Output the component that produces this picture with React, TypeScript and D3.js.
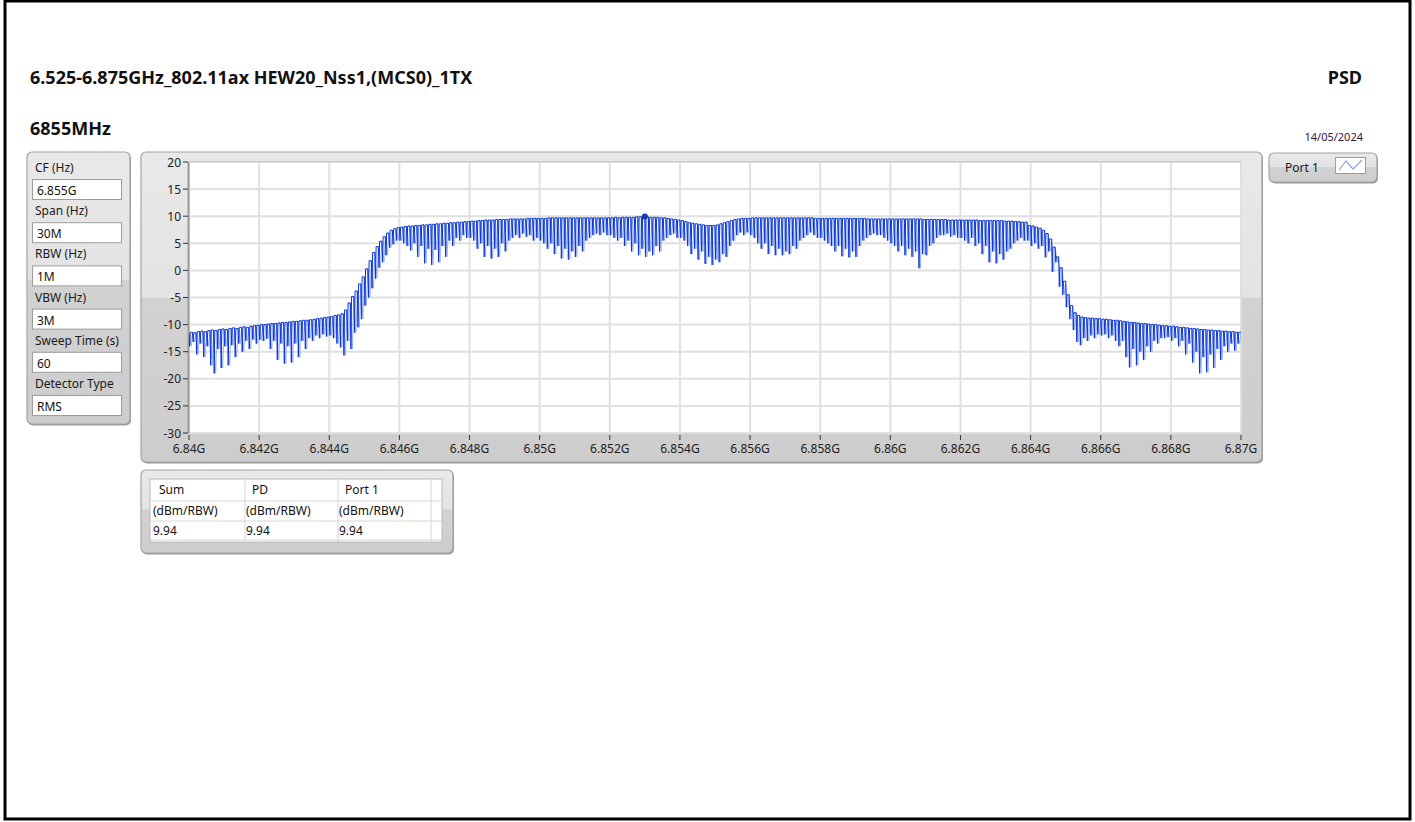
import * as d3 from 'd3';

// Sweep: 6.84 GHz .. 6.87 GHz, one peak every 0.1 MHz, dip half-way between peaks
const START_GHZ = 6.84;
const STEP_GHZ = 0.0001;

// Peak levels (dBm/RBW), one row per 2 MHz grid cell
const PEAK_DBM: number[][] = [
  [-11.6, -11.4, -11.5, -11.3, -11.2, -11.3, -11.1, -11.0, -11.1, -10.9, -10.8, -10.9, -10.7, -10.6, -10.7, -10.5, -10.4, -10.5, -10.3, -10.2],
  [-10.1, -10.0, -10.0, -9.9, -9.8, -9.8, -9.7, -9.6, -9.6, -9.5, -9.4, -9.4, -9.3, -9.2, -9.2, -9.1, -9.0, -8.9, -8.8, -8.7],
  [-8.6, -8.5, -8.3, -8.2, -8.0, -7.3, -6.0, -4.8, -3.8, -2.5, -1.2, 0.3, 1.8, 3.3, 4.4, 5.4, 6.2, 6.9, 7.4, 7.7],
  [7.9, 8.0, 8.1, 8.2, 8.2, 8.3, 8.3, 8.4, 8.4, 8.5, 8.5, 8.6, 8.6, 8.7, 8.7, 8.8, 8.8, 8.9, 8.9, 9.0],
  [9.0, 9.1, 9.1, 9.2, 9.2, 9.3, 9.3, 9.3, 9.4, 9.4, 9.4, 9.4, 9.5, 9.5, 9.5, 9.5, 9.5, 9.6, 9.6, 9.6],
  [9.6, 9.6, 9.6, 9.7, 9.7, 9.7, 9.7, 9.7, 9.7, 9.7, 9.7, 9.7, 9.7, 9.7, 9.7, 9.7, 9.7, 9.7, 9.7, 9.7],
  [9.7, 9.7, 9.8, 9.7, 9.8, 9.8, 9.8, 9.8, 9.9, 9.9, 9.94, 9.9, 9.8, 9.8, 9.8, 9.7, 9.7, 9.6, 9.5, 9.4],
  [9.3, 9.2, 9.0, 8.8, 8.7, 8.6, 8.5, 8.4, 8.3, 8.3, 8.3, 8.4, 8.6, 8.8, 9.0, 9.2, 9.4, 9.5, 9.6, 9.6],
  [9.6, 9.7, 9.7, 9.7, 9.7, 9.7, 9.7, 9.7, 9.7, 9.7, 9.7, 9.7, 9.7, 9.7, 9.7, 9.7, 9.7, 9.7, 9.7, 9.6],
  [9.6, 9.6, 9.6, 9.6, 9.6, 9.6, 9.6, 9.6, 9.6, 9.6, 9.6, 9.6, 9.6, 9.6, 9.5, 9.5, 9.5, 9.5, 9.5, 9.5],
  [9.5, 9.5, 9.5, 9.5, 9.5, 9.5, 9.5, 9.5, 9.5, 9.5, 9.4, 9.4, 9.4, 9.4, 9.4, 9.4, 9.4, 9.3, 9.3, 9.3],
  [9.3, 9.3, 9.3, 9.3, 9.3, 9.3, 9.2, 9.2, 9.2, 9.2, 9.2, 9.2, 9.2, 9.1, 9.1, 9.1, 9.0, 9.0, 8.9, 8.9],
  [8.3, 8.2, 8.0, 7.8, 7.4, 6.8, 5.8, 4.3, 2.5, 0.5, -2.0, -4.5, -6.5, -7.8, -8.3, -8.6, -8.7, -8.8, -8.8, -8.9],
  [-8.9, -9.0, -9.0, -9.1, -9.2, -9.2, -9.3, -9.4, -9.5, -9.6, -9.6, -9.7, -9.8, -9.8, -9.9, -10.0, -10.0, -10.1, -10.2, -10.2],
  [-10.3, -10.3, -10.4, -10.5, -10.5, -10.6, -10.7, -10.7, -10.8, -10.9, -10.9, -11.0, -11.0, -11.1, -11.1, -11.2, -11.2, -11.3, -11.3, -11.4, -11.4],
];

// Dip levels between consecutive peaks
const DIP_DBM: number[][] = [
  [-14.0, -13.2, -15.5, -13.5, -16.0, -14.0, -17.5, -19.0, -14.5, -18.0, -14.0, -17.5, -13.8, -16.0, -13.5, -15.0, -13.0, -14.5, -12.8, -13.5],
  [-12.8, -13.0, -12.6, -14.5, -13.0, -16.5, -13.5, -17.2, -14.0, -17.0, -13.5, -16.0, -13.0, -14.5, -12.5, -13.0, -12.0, -12.5, -11.8, -12.2],
  [-12.0, -12.5, -13.5, -14.2, -15.7, -13.0, -14.5, -11.5, -10.5, -9.0, -6.5, -5.0, -3.3, -1.5, 0.5, 1.5, 2.8, 4.2, 4.8, 5.5],
  [5.5, 5.0, 4.5, 3.7, 5.0, 2.5, 4.5, 1.3, 4.0, 1.0, 3.8, 1.5, 4.5, 2.5, 5.5, 4.5, 6.0, 5.5, 6.5, 6.0],
  [6.0, 5.5, 4.0, 5.0, 2.5, 4.5, 2.2, 4.0, 2.5, 5.0, 3.5, 5.5, 6.0, 6.5, 6.0, 6.8, 6.2, 6.5, 5.5, 6.0],
  [5.5, 5.0, 4.0, 5.0, 3.0, 4.5, 2.2, 4.0, 2.0, 3.5, 2.5, 4.5, 3.5, 5.5, 6.0, 6.5, 6.8, 6.5, 7.0, 6.5],
  [6.5, 6.0, 5.5, 6.0, 4.5, 5.5, 3.5, 5.0, 2.8, 4.0, 2.5, 3.5, 2.8, 4.5, 3.5, 5.5, 6.0, 6.5, 6.8, 6.0],
  [6.0, 5.5, 4.5, 3.0, 4.0, 2.0, 3.5, 1.2, 2.5, 1.0, 2.0, 1.5, 3.0, 2.5, 4.5, 5.5, 6.5, 7.0, 6.5, 7.0],
  [6.5, 6.0, 5.0, 4.0, 5.0, 3.0, 4.5, 2.8, 4.0, 2.8, 3.5, 3.0, 4.5, 4.0, 5.5, 6.0, 6.5, 7.0, 6.5, 6.0],
  [6.0, 5.5, 5.0, 4.5, 3.5, 4.5, 2.6, 4.0, 2.4, 3.5, 2.5, 4.5, 5.5, 6.0, 6.5, 6.8, 6.5, 6.5, 6.0, 5.5],
  [5.0, 4.5, 3.5, 4.5, 2.8, 4.0, 2.5, 3.5, 0.4, 3.0, 2.8, 4.5, 5.0, 6.0, 6.5, 6.5, 6.8, 6.2, 6.5, 6.0],
  [6.0, 5.5, 5.0, 6.0, 4.5, 5.0, 3.0, 4.5, 1.5, 3.5, 1.3, 3.0, 2.0, 3.5, 4.0, 5.0, 5.5, 6.0, 5.5, 5.5],
  [4.5, 5.0, 4.0, 4.5, 2.4, 3.5, -0.3, 1.5, -3.0, -4.5, -6.8, -9.0, -11.0, -13.2, -13.8, -12.5, -13.0, -12.0, -12.5, -11.8],
  [-12.0, -11.8, -12.5, -12.0, -13.0, -14.0, -13.0, -16.0, -17.9, -14.5, -17.5, -15.0, -16.5, -14.0, -15.0, -13.0, -13.5, -12.5, -12.5, -12.3],
  [-13.0, -12.5, -14.0, -13.0, -15.5, -13.5, -17.0, -15.0, -19.0, -16.0, -18.8, -15.5, -18.0, -14.5, -16.5, -14.0, -15.0, -13.5, -14.8, -13.5],
];

const MARKER_GHZ = 6.853;
const MARKER_DBM = 9.94;

const X_TICKS = [6.84, 6.842, 6.844, 6.846, 6.848, 6.85, 6.852, 6.854, 6.856, 6.858, 6.86, 6.862, 6.864, 6.866, 6.868, 6.87];
const X_TICK_LABELS = ['6.84G', '6.842G', '6.844G', '6.846G', '6.848G', '6.85G', '6.852G', '6.854G', '6.856G', '6.858G', '6.86G', '6.862G', '6.864G', '6.866G', '6.868G', '6.87G'];
const Y_TICKS = [20, 15, 10, 5, 0, -5, -10, -15, -20, -25, -30];

const SETTING_LABELS = ['CF (Hz)', 'Span (Hz)', 'RBW (Hz)', 'VBW (Hz)', 'Sweep Time (s)', 'Detector Type'];
const SETTING_VALUES = ['6.855G', '30M', '1M', '3M', '60', 'RMS'];

const TABLE_HEADERS = ['Sum', 'PD', 'Port 1'];
const TABLE_UNITS = ['(dBm/RBW)', '(dBm/RBW)', '(dBm/RBW)'];
const TABLE_VALUES = ['9.94', '9.94', '9.94'];

const FONT = "'Noto Sans', 'Open Sans', sans-serif";
const TRACE = '#0a37d6';
const TRACE_LIGHT = '#8ba3ee';

function Panel({ id, x, y, w, h }: { id: string; x: number; y: number; w: number; h: number }) {
  return (
    <g>
      <defs>
        <linearGradient id={id} x1="0" y1="0" x2="0" y2="1">
          <stop offset="0" stopColor="#e9e9e9" />
          <stop offset="0.47" stopColor="#e3e3e3" />
          <stop offset="0.47" stopColor="#d2d2d2" />
          <stop offset="1" stopColor="#cdcdcd" />
        </linearGradient>
      </defs>
      <rect x={x + 1} y={y + 1.5} width={w} height={h} rx={5} fill="#9a9a9a" />
      <rect x={x} y={y} width={w} height={h} rx={5} fill={`url(#${id})`} stroke="#a3a3a3" strokeWidth={1.2} />
    </g>
  );
}

export default function App() {
  const plot = { left: 189, right: 1241, top: 162, bottom: 433 };
  const x = d3.scaleLinear().domain([6.84, 6.87]).range([plot.left, plot.right]);
  const y = d3.scaleLinear().domain([-30, 20]).range([plot.bottom, plot.top]);

  const peaks = PEAK_DBM.flat();
  const dips = DIP_DBM.flat();

  // dark trace: narrow, almost vertical notches with flat caps in between
  const dark: [number, number][] = [];
  // light trace: the same samples joined as a wide zig-zag (anti-aliased look)
  const light: [number, number][] = [];
  peaks.forEach((p, i) => {
    const f = START_GHZ + i * STEP_GHZ;
    dark.push([f, p]);
    light.push([f, p]);
    if (i < dips.length) {
      const next = peaks[i + 1];
      dark.push([f + STEP_GHZ * 0.18, dips[i]]);
      dark.push([f + STEP_GHZ * 0.36, next]);
      light.push([f + STEP_GHZ * 0.6, dips[i]]);
    }
  });
  const line = d3
    .line<[number, number]>()
    .x((d) => x(d[0]))
    .y((d) => y(d[1]));

  return (
    <svg
      width={1415}
      height={822}
      style={{ position: 'absolute', left: 0, top: 0, background: '#fff' }}
      fontFamily={FONT}
    >
      <rect x={0} y={0} width={1415} height={822} fill="#fff" />
      <rect x={5} y={1} width={1405} height={818} fill="none" stroke="#000" strokeWidth={3} />

      {/* titles */}
      <text x={30} y={84} fontSize={18} fontWeight="bold" fill="#111">
        6.525-6.875GHz_802.11ax HEW20_Nss1,(MCS0)_1TX
      </text>
      <text x={30} y={135} fontSize={18} fontWeight="bold" fill="#111">
        6855MHz
      </text>
      <text x={1362} y={84} fontSize={18} fontWeight="bold" fill="#111" textAnchor="end">
        PSD
      </text>
      <text x={1363} y={141} fontSize={11} fill="#2a2040" textAnchor="end">
        14/05/2024
      </text>

      {/* settings panel */}
      <Panel id="gSet" x={27} y={152} w={103} h={272} />
      {SETTING_LABELS.map((lab, i) => (
        <g key={lab}>
          <text x={35} y={172 + i * 43.2} fontSize={12} fill="#1a1a1a">
            {lab}
          </text>
          <rect x={32.5} y={179.5 + i * 43.2} width={89} height={20} fill="#fff" stroke="#9d9d9d" />
          <text x={37} y={195 + i * 43.2} fontSize={12} fill="#111">
            {SETTING_VALUES[i]}
          </text>
        </g>
      ))}

      {/* graph panel */}
      <Panel id="gPlot" x={141} y={152} w={1121} h={310} />
      <rect x={plot.left} y={plot.top} width={plot.right - plot.left} height={plot.bottom - plot.top} fill="#fff" />
      <clipPath id="plotClip">
        <rect x={plot.left} y={plot.top} width={plot.right - plot.left} height={plot.bottom - plot.top} />
      </clipPath>
      {X_TICKS.map((t) => (
        <line key={`gx${t}`} x1={x(t)} x2={x(t)} y1={plot.top} y2={plot.bottom} stroke="#e0e0e0" strokeWidth={2} />
      ))}
      {Y_TICKS.map((t) => (
        <line key={`gy${t}`} x1={plot.left} x2={plot.right} y1={y(t)} y2={y(t)} stroke="#e0e0e0" strokeWidth={2} />
      ))}
      <line x1={plot.left - 0.5} x2={plot.left - 0.5} y1={plot.top} y2={plot.bottom} stroke="#9a9a9a" strokeWidth={2} />
      <line x1={plot.left} x2={plot.right} y1={plot.top - 0.5} y2={plot.top - 0.5} stroke="#c8c8c8" strokeWidth={1} />

      <g clipPath="url(#plotClip)">
        <path d={line(light) ?? ''} fill="none" stroke={TRACE_LIGHT} strokeWidth={0.8} />
        <path d={line(dark) ?? ''} fill="none" stroke={TRACE} strokeWidth={1} />
        <circle cx={x(MARKER_GHZ)} cy={y(MARKER_DBM)} r={3} fill="#1d3aa8" />
      </g>

      {/* y axis */}
      {Y_TICKS.map((t) => (
        <g key={`ty${t}`}>
          <line x1={183} x2={188} y1={y(t)} y2={y(t)} stroke="#333" />
          <text x={181} y={y(t) + 4.5} fontSize={12} fill="#222" textAnchor="end">
            {t}
          </text>
        </g>
      ))}
      {/* x axis */}
      {X_TICKS.map((t, i) => (
        <g key={`tx${t}`}>
          <line x1={x(t)} x2={x(t)} y1={plot.bottom + 2} y2={plot.bottom + 7} stroke="#333" />
          <text x={x(t)} y={453} fontSize={12} fill="#222" textAnchor="middle">
            {X_TICK_LABELS[i]}
          </text>
        </g>
      ))}

      {/* legend */}
      <Panel id="gLeg" x={1269} y={153} w={108} h={29} />
      <text x={1285} y={172} fontSize={12} fill="#1a1a1a">
        Port 1
      </text>
      <rect x={1335.5} y={157.5} width={30} height={16} fill="#fff" stroke="#9d9d9d" />
      <polyline points="1339,170 1346,161 1353,169 1362,160" fill="none" stroke={TRACE_LIGHT} strokeWidth={1.2} />

      {/* results table */}
      <Panel id="gTab" x={141} y={470} w={312} h={83} />
      <rect x={150} y={479} width={292} height={63} fill="#fff" stroke="#b8b8b8" />
      {[501, 521, 540].map((ry) => (
        <line key={ry} x1={150} x2={442} y1={ry} y2={ry} stroke="#d6d6d6" />
      ))}
      {[245, 338, 431].map((cx) => (
        <line key={cx} x1={cx} x2={cx} y1={479} y2={542} stroke="#d6d6d6" />
      ))}
      {TABLE_HEADERS.map((h, i) => (
        <g key={h}>
          <text x={159 + i * 93} y={494} fontSize={12} fill="#111">
            {h}
          </text>
          <text x={153 + i * 93} y={515} fontSize={12} fill="#111">
            {TABLE_UNITS[i]}
          </text>
          <text x={153 + i * 93} y={535} fontSize={12} fill="#111">
            {TABLE_VALUES[i]}
          </text>
        </g>
      ))}
    </svg>
  );
}
